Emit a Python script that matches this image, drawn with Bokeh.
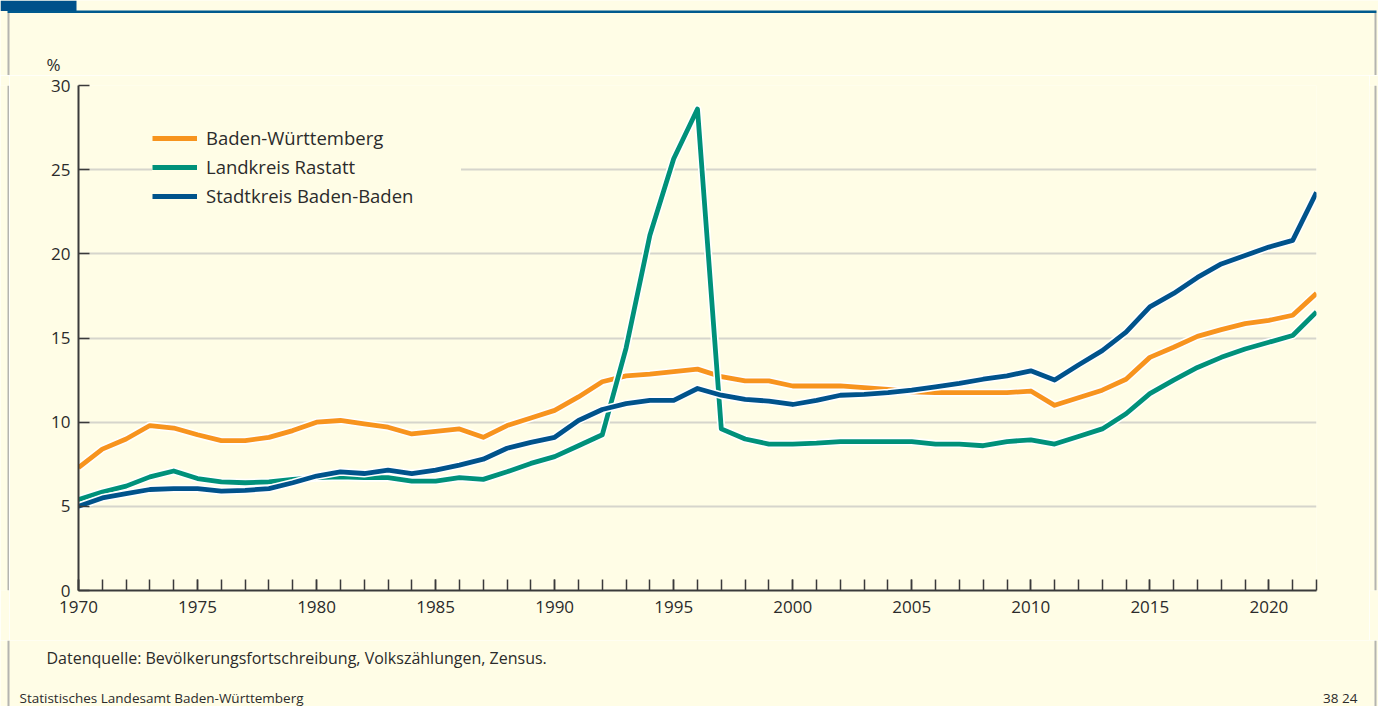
from bokeh.plotting import figure
from bokeh.layouts import column, row
from bokeh.models import (Legend, LegendItem, SingleIntervalTicker, FixedTicker, Range1d)
from bokeh.core.properties import value
from bokeh.embed import file_html
from bokeh.resources import INLINE

# ---------------- data ----------------
years = list(range(1970, 2023))

baden_wuerttemberg = [
    7.3, 8.4, 9.0, 9.8, 9.65, 9.25, 8.9, 8.9, 9.1, 9.5,
    10.0, 10.1, 9.9, 9.7, 9.3, 9.45, 9.6, 9.1, 9.8, 10.25,
    10.7, 11.5, 12.4, 12.75, 12.85, 13.0, 13.15, 12.7, 12.45, 12.45,
    12.15, 12.15, 12.15, 12.05, 11.95, 11.8, 11.75, 11.75, 11.75, 11.75,
    11.85, 11.0, 11.45, 11.9, 12.55, 13.85, 14.45, 15.1, 15.5, 15.85,
    16.05, 16.35, 17.65]

landkreis_rastatt = [
    5.4, 5.85, 6.2, 6.75, 7.1, 6.65, 6.45, 6.4, 6.45, 6.6,
    6.7, 6.75, 6.7, 6.7, 6.5, 6.5, 6.7, 6.6, 7.05, 7.55,
    7.95, 8.6, 9.25, 14.4, 21.1, 25.65, 28.6, 9.6, 9.0, 8.7,
    8.7, 8.75, 8.85, 8.85, 8.85, 8.85, 8.7, 8.7, 8.6, 8.85,
    8.95, 8.7, 9.15, 9.6, 10.5, 11.7, 12.5, 13.25, 13.85, 14.35,
    14.75, 15.15, 16.55]

stadtkreis_baden_baden = [
    5.0, 5.5, 5.75, 6.0, 6.05, 6.05, 5.9, 5.95, 6.05, 6.4,
    6.8, 7.05, 6.95, 7.15, 6.95, 7.15, 7.45, 7.8, 8.45, 8.8,
    9.1, 10.1, 10.75, 11.1, 11.3, 11.3, 12.0, 11.6, 11.35, 11.25,
    11.05, 11.3, 11.6, 11.65, 11.75, 11.9, 12.1, 12.3, 12.55, 12.75,
    13.05, 12.5, 13.4, 14.25, 15.35, 16.85, 17.65, 18.6, 19.4, 19.9,
    20.4, 20.8, 23.65]

series_names = ["Baden-Württemberg", "Landkreis Rastatt", "Stadtkreis Baden-Baden"]
y_ticks = [0, 5, 10, 15, 20, 25, 30]
unit_label = "%"
source_note = "Datenquelle: Bevölkerungsfortschreibung, Volkszählungen, Zensus."
publisher = "Statistisches Landesamt Baden-Württemberg"
chart_id = "38 24"

# ---------------- styling ----------------
BG = "#fffde6"
ORANGE = "#f7941e"
GREEN = "#00917a"
BLUE = "#00538b"
BAR_DARK = "#00508a"
BAR_LINE = "#005a8e"
BORDER = "#b4b4b0"
TXT = "#2b2b2b"
AX = "#3a3a3a"
FONT = "Open Sans"

W = 1378
HDR_H = 75          # header strip: y 0..75
MAIN_TOP, MAIN_BOT = 75, 640
FTR_TOP, FTR_BOT = 640, 706
STRIP = 9
FL, FR, FT, FB = 78, 1316, 85, 590   # plot frame in page pixels


def canvas_fig(width, y0, y1):
    """A figure whose frame is its whole canvas, in page pixel coordinates."""
    f = figure(width=width, height=y1 - y0, output_backend="svg", toolbar_location=None,
               x_range=Range1d(0, width), y_range=Range1d(y1, y0),
               x_axis_type=None, y_axis_type=None,
               min_border_left=0, min_border_right=0, min_border_top=0, min_border_bottom=0)
    f.background_fill_color = BG
    f.border_fill_color = BG
    f.outline_line_color = None
    f.xgrid.visible = False
    f.ygrid.visible = False
    return f

# ---- header ----
hdr = canvas_fig(W, 0, HDR_H)
hdr.quad(left=[0], right=[76], top=[0], bottom=[10.5], fill_color=BAR_DARK, line_color=None)
hdr.quad(left=[7], right=[1376], top=[10], bottom=[12.5], fill_color=BAR_LINE, line_color=None)
hdr.quad(left=[7, 1374], right=[9, 1376], top=[12.5, 12.5], bottom=[HDR_H, HDR_H],
         fill_color=BORDER, line_color=None)
hdr.text(x=[46], y=[64], text=[unit_label], text_font=value(FONT), text_font_size="17px",
         text_color=TXT, text_baseline="middle", text_align="left")

# ---- side strips ----
main_w = W - 2 * STRIP
strip_l = canvas_fig(STRIP, MAIN_TOP, MAIN_BOT)
strip_l.quad(left=[7], right=[9], top=[MAIN_TOP], bottom=[MAIN_BOT], fill_color=BORDER, line_color=None)
strip_r = canvas_fig(STRIP, MAIN_TOP, MAIN_BOT)
strip_r.quad(left=[1374 - (STRIP + main_w)], right=[1376 - (STRIP + main_w)], top=[MAIN_TOP],
             bottom=[MAIN_BOT], fill_color=BORDER, line_color=None)

# ---- main chart ----
p = figure(width=main_w, height=MAIN_BOT - MAIN_TOP, output_backend="svg", toolbar_location=None,
           x_range=Range1d(1970, 2022), y_range=Range1d(0, 30),
           min_border_left=FL - STRIP, min_border_right=(STRIP + main_w) - FR,
           min_border_top=FT - MAIN_TOP, min_border_bottom=MAIN_BOT - FB)
p.background_fill_color = BG
p.border_fill_color = BG
p.outline_line_color = None

p.xaxis.ticker = SingleIntervalTicker(interval=5, num_minor_ticks=5)
p.yaxis.ticker = FixedTicker(ticks=y_ticks)
for ax in (p.xaxis[0], p.yaxis[0]):
    ax.axis_line_color = AX
    ax.axis_line_width = 2
    ax.major_tick_line_color = AX
    ax.major_tick_line_width = 1.5
    ax.major_tick_in = 11
    ax.major_tick_out = 0
    ax.major_label_text_font = FONT
    ax.major_label_text_font_size = "17px"
    ax.major_label_text_color = TXT
p.xaxis.minor_tick_line_color = AX
p.xaxis.minor_tick_line_width = 1.5
p.xaxis.minor_tick_in = 11
p.xaxis.minor_tick_out = 0
p.xaxis.major_label_standoff = 10
p.yaxis.minor_tick_line_color = None
p.yaxis.major_label_standoff = 8

p.xgrid.visible = False
p.ygrid.ticker = FixedTicker(ticks=y_ticks)
p.ygrid.grid_line_color = "#d6d5cc"
p.ygrid.grid_line_width = 2

renderers = []
for vals, col in ((baden_wuerttemberg, ORANGE), (landkreis_rastatt, GREEN),
                  (stadtkreis_baden_baden, BLUE)):
    p.line(years, vals, line_color="white", line_width=8, line_join="round")
    r = p.line(years, vals, line_color=col, line_width=4.8, line_join="round")
    renderers.append(r)

legend = Legend(items=[LegendItem(label=n, renderers=[r]) for n, r in zip(series_names, renderers)],
                location=(74, 382), orientation="vertical",
                background_fill_color=BG, background_fill_alpha=1.0,
                border_line_color=None, padding=15, spacing=4,
                glyph_width=45, glyph_height=20, label_height=20, label_width=255,
                label_standoff=9, label_text_font=FONT, label_text_font_size="18.5px",
                label_text_color=TXT, margin=0)
p.add_layout(legend)

# ---- footer ----
ftr = canvas_fig(W, FTR_TOP, FTR_BOT)
ftr.quad(left=[7, 1374], right=[9, 1376], top=[FTR_TOP, FTR_TOP], bottom=[FTR_BOT, FTR_BOT],
         fill_color=BORDER, line_color=None)
ftr.text(x=[46], y=[657], text=[source_note], text_font=value(FONT), text_font_size="16px",
         text_color=TXT, text_baseline="middle", text_align="left")
ftr.text(x=[19], y=[697], text=[publisher], text_font=value(FONT), text_font_size="13.5px",
         text_color=TXT, text_baseline="middle", text_align="left")
ftr.text(x=[1357], y=[697], text=[chart_id], text_font=value(FONT), text_font_size="13.5px",
         text_color=TXT, text_baseline="middle", text_align="right")

layout = column(hdr, row(strip_l, p, strip_r, spacing=0), ftr, spacing=0)
open("out.html", "w").write(file_html(layout, INLINE))
